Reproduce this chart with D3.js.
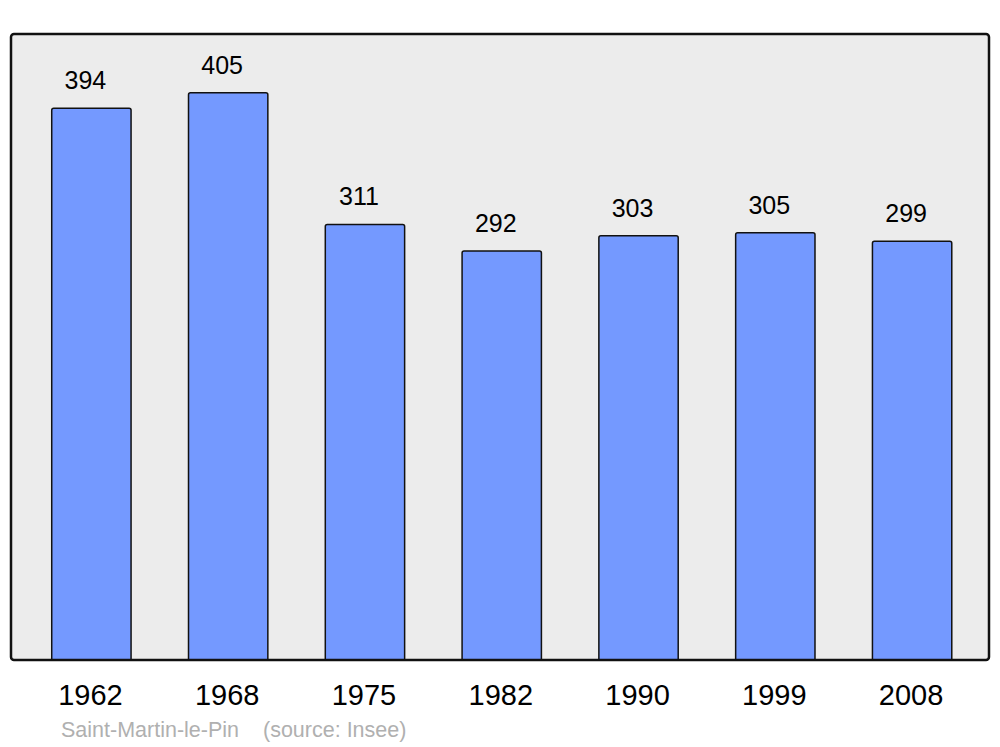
<!DOCTYPE html>
<html>
<head>
<meta charset="utf-8">
<script src="https://cdn.jsdelivr.net/npm/d3@7"></script>
<style>
  body { margin: 0; background: #fff; }
  svg { display: block; font-family: "Liberation Sans", Arial, sans-serif; }
</style>
</head>
<body>
<div id="chart"></div>
<script>
var years = ["1962", "1968", "1975", "1982", "1990", "1999", "2008"];
var population = [394, 405, 311, 292, 303, 305, 299];
var town = "Saint-Martin-le-Pin";
var source = "(source: Insee)";

var width = 1000, height = 747,
    plot = {left: 11, right: 989, top: 34, bottom: 660};

var svg = d3.select("#chart").append("svg")
    .attr("width", width)
    .attr("height", height);

var x = d3.scaleBand()
    .domain(years)
    .range([23, 980.5])
    .paddingInner(0.42)
    .paddingOuter(0.21);

var y = d3.scaleLinear()
    .domain([0, 447])
    .range([plot.bottom, plot.top]);

// background panel
svg.append("rect")
    .attr("x", plot.left)
    .attr("y", plot.top)
    .attr("width", plot.right - plot.left)
    .attr("height", plot.bottom - plot.top)
    .attr("rx", 3)
    .attr("fill", "#ececec");

var data = years.map(function(d, i) { return {year: d, value: population[i]}; });

function barPath(d) {
  var x0 = x(d.year), x1 = x0 + x.bandwidth(),
      y0 = y(d.value), y1 = y(0), r = 2;
  return "M" + x0 + "," + y1 +
         "V" + (y0 + r) +
         "Q" + x0 + "," + y0 + " " + (x0 + r) + "," + y0 +
         "H" + (x1 - r) +
         "Q" + x1 + "," + y0 + " " + x1 + "," + (y0 + r) +
         "V" + y1;
}

svg.append("g").selectAll("path")
    .data(data)
  .enter().append("path")
    .attr("d", barPath)
    .attr("fill", "#7499ff")
    .attr("stroke", "#111")
    .attr("stroke-width", 1.5);

svg.append("g").selectAll("text")
    .data(data)
  .enter().append("text")
    .attr("x", function(d) { return x(d.year) + x.bandwidth() / 2 - 6; })
    .attr("y", function(d) { return y(d.value) - 19; })
    .attr("text-anchor", "middle")
    .attr("font-size", 25)
    .attr("fill", "#000")
    .text(function(d) { return d.value; });

// frame on top
svg.append("rect")
    .attr("x", plot.left)
    .attr("y", plot.top)
    .attr("width", plot.right - plot.left)
    .attr("height", plot.bottom - plot.top)
    .attr("rx", 3)
    .attr("fill", "none")
    .attr("stroke", "#111")
    .attr("stroke-width", 2.5);

// year labels
var xAxis = svg.append("g")
    .attr("transform", "translate(0," + plot.bottom + ")")
    .call(d3.axisBottom(x).tickSize(0).tickPadding(0));
xAxis.select(".domain").remove();
xAxis.selectAll("text")
    .attr("dy", null)
    .attr("x", -1)
    .attr("y", 45)
    .attr("font-size", 29)
    .attr("font-family", "Liberation Sans, Arial, sans-serif")
    .attr("fill", "#000");

svg.append("text")
    .attr("x", 61)
    .attr("y", 737)
    .attr("font-size", 21.5)
    .attr("fill", "#b0b0b0")
    .text(town);

svg.append("text")
    .attr("x", 263)
    .attr("y", 737)
    .attr("font-size", 21.5)
    .attr("fill", "#b0b0b0")
    .text(source);
</script>
</body>
</html>
